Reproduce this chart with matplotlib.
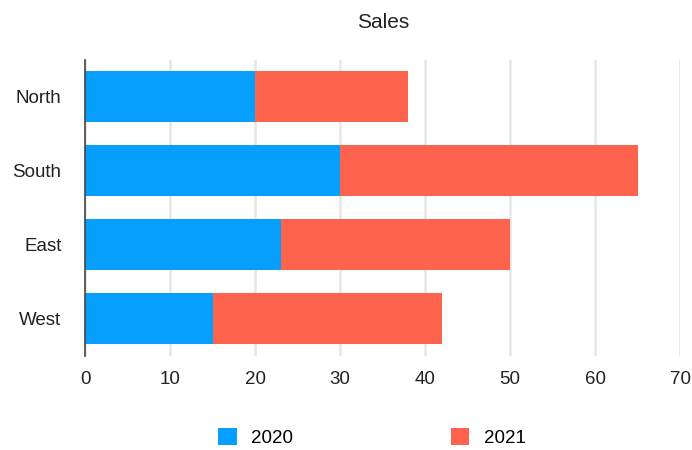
import matplotlib.pyplot as plt
import numpy as np

# regional sales, stacked by year
regions = ['North', 'South', 'East', 'West']
sales_2020 = [20, 30, 23, 15]
sales_2021 = [18, 35, 27, 27]
years = ['2020', '2021']
colors = ['#079ffe', '#fe634e']

plt.rcParams['font.family'] = ['Liberation Sans', 'DejaVu Sans']

fig = plt.figure(figsize=(6.92, 4.5), dpi=100)
ax = fig.add_axes([0.123, 0.209, 0.860, 0.658])

y = np.arange(len(regions))
ax.barh(y, sales_2020, height=0.69, color=colors[0], label=years[0], zorder=3)
ax.barh(y, sales_2021, left=sales_2020, height=0.69, color=colors[1], label=years[1], zorder=3)

ax.set_yticks(y)
ax.set_yticklabels(regions)
ax.set_ylim(3.5, -0.5)
ax.set_xlim(0, 70)
ax.set_xticks(range(0, 71, 10))

ax.grid(axis='x', color='#e6e6e6', linewidth=1.8, zorder=0)
for s in ['top', 'right', 'bottom']:
    ax.spines[s].set_visible(False)
ax.spines['left'].set_color('#444444')
ax.spines['left'].set_linewidth(1.2)
ax.spines['left'].set_zorder(4)
ax.tick_params(length=0, labelsize=13.5, colors='#222222')
ax.tick_params(axis='y', pad=17)
ax.tick_params(axis='x', pad=11)

ax.set_title('Sales', fontsize=15, color='#222222', pad=23)

fig.legend(loc='center', bbox_to_anchor=(0.537, 0.027), ncol=2, frameon=False,
           fontsize=13.5, handlelength=1.0, handleheight=1.0, handletextpad=0.75,
           columnspacing=8.43)

fig.savefig('out.png', dpi=100)
